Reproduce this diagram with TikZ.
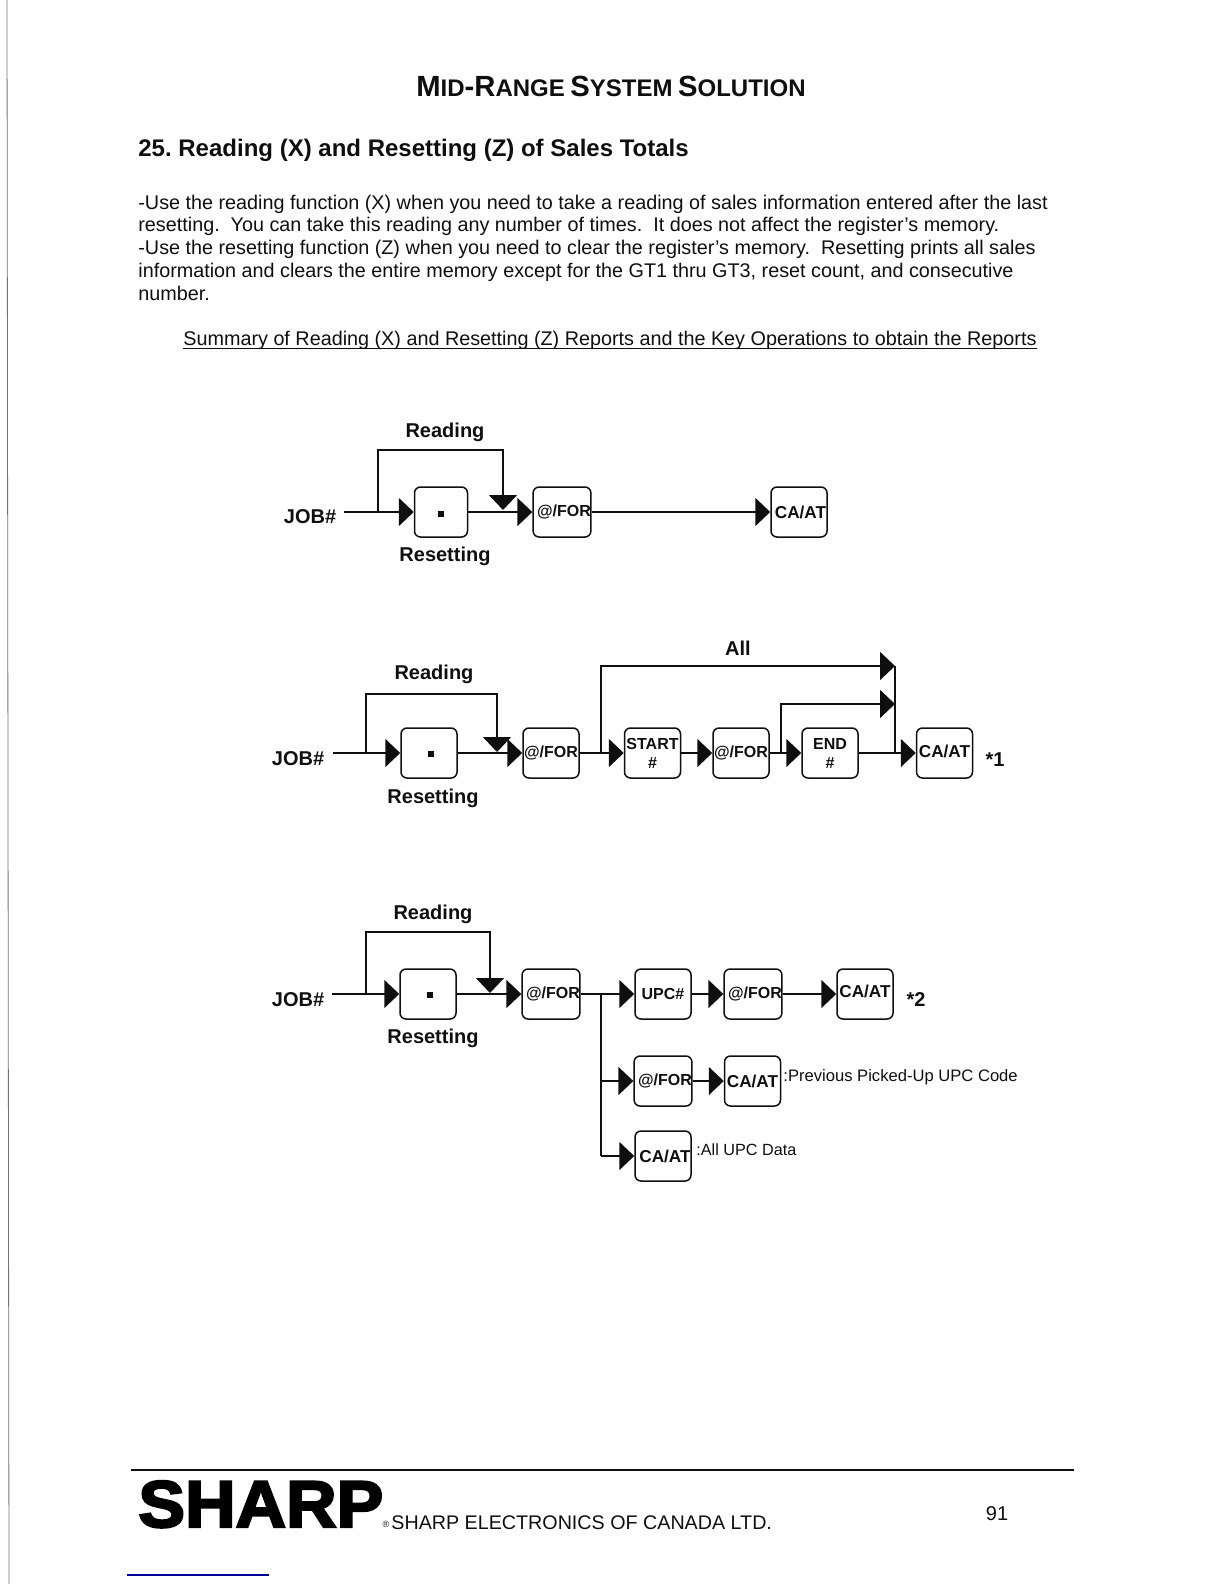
\documentclass[tikz,border=0pt]{standalone}
\usepackage{fontspec}
\setmainfont{Liberation Sans}
\newfontface\logofont[FakeBold=3.5,FakeStretch=1.06]{Liberation Sans Bold}
\usetikzlibrary{arrows.meta}
\definecolor{ink}{gray}{0.06}
\newcommand{\scaps}[2]{{\fontsize{14.6pt}{14.6pt}\selectfont #1}{\fontsize{12pt}{14pt}\selectfont #2}}
\newcommand{\ofs}{\hspace*{2pt}}
\tikzset{
 keybox/.style={draw=ink,line width=0.75pt,rounded corners=3pt,minimum width=28pt,minimum height=25pt,inner sep=0pt,font=\bfseries\fontsize{8pt}{9pt}\selectfont,align=center,text=ink},
 cakey/.style={keybox,font=\bfseries\fontsize{8.6pt}{9pt}\selectfont},
 lab/.style={font=\bfseries\fontsize{10pt}{12pt}\selectfont,text=ink,inner sep=0pt},
 note/.style={font=\fontsize{8.3pt}{10pt}\selectfont,text=ink,inner sep=0pt,anchor=west},
 body/.style={font=\fontsize{9.89pt}{12pt}\selectfont,text=ink,inner sep=0pt,anchor=base west},
 flow/.style={draw=ink,line width=0.9pt,-{Triangle[length=7.5pt,width=14pt]}},
 plain/.style={draw=ink,line width=0.9pt},
 dotk/.style={fill=ink,minimum size=3.4pt,inner sep=0pt},
}
\begin{document}
\begin{tikzpicture}[x=0.5pt,y=-0.5pt]
\useasboundingbox (0,0) rectangle (1224,1584);
% scan edge
\coordinate (ea) at (7,0); \coordinate (eb) at (9,1584);
\draw[black!55,line width=0.4pt] (ea) -- (eb);
% header
\node[inner sep=0pt,text=ink,font=\bfseries] (title) at (611,86) {\scaps{M}{ID}\scaps{-R}{ANGE} \scaps{S}{YSTEM} \scaps{S}{OLUTION}};
\node[body,font=\bfseries\fontsize{12pt}{14pt}\selectfont] (head) at (138,156.5) {25.\ Reading (X) and Resetting (Z) of Sales Totals};
\node[body] (b1) at (138,209) {-Use the reading function (X) when you need to take a reading of sales information entered after the last};
\node[body] (b2) at (138,231) {resetting.\ \ You can take this reading any number of times.\ \ It does not affect the register’s memory.};
\node[body] (b3) at (138,254) {-Use the resetting function (Z) when you need to clear the register’s memory.\ \ Resetting prints all sales};
\node[body] (b4) at (138,277) {information and clears the entire memory except for the GT1 thru GT3, reset count, and consecutive};
\node[body] (b5) at (138,300) {number.};
\node[body] (sum) at (183,345.5) {Summary of Reading (X) and Resetting (Z) Reports and the Key Operations to obtain the Reports};
\draw[ink,line width=0.45pt] ([yshift=-1.3pt]sum.base west) -- ([yshift=-1.3pt]sum.base east);

% ---- diagram 1
\node[lab] (rd1) at (445,432) {Reading};
\node[lab] (rs1) at (445,556) {Resetting};
\node[lab] (job1) at (310,517) {JOB\#};
\coordinate (s1) at (344,512);
\node[keybox,minimum width=26.5pt] (a1) at (441,512) {};
\node[dotk] (d1) at (441,514) {};
\node[keybox] (a2) at (562,512) {\ofs @/FOR};
\node[cakey] (a3) at (799,512) {\hspace*{1.5pt}CA/AT};
\coordinate (r1a) at (378,512); \coordinate (r1t) at (378,450); \coordinate (r1b) at (503,510);
\draw[flow] (s1) -- (a1);
\draw[flow] (a1) -- (a2);
\draw[flow] (a2) -- (a3);
\draw[flow] (r1a) -- (r1t) -| (r1b);

% ---- diagram 2
\node[lab] (rd2) at (434,674) {Reading};
\node[lab] (rs2) at (433,798) {Resetting};
\node[lab] (all) at (738,648) {All};
\node[lab] (job2) at (298,759) {JOB\#};
\coordinate (s2) at (333,753);
\node[keybox] (b21) at (429,753) {};
\node[dotk] (d2) at (431,754) {};
\node[keybox] (b22) at (551,753) {@/FOR};
\node[keybox] (b23) at (652.5,753) {\raisebox{1pt}{START}\\[-0.5pt]\#};
\node[keybox] (b24) at (741,753) {@/FOR};
\node[keybox] (b25) at (830,753) {\raisebox{1pt}{END}\\[-0.5pt]\#};
\node[cakey] (b26) at (944.5,753) {\raisebox{2pt}{CA/AT}};
\node[lab] (st1) at (995,760) {*1};
\coordinate (r2a) at (366,753); \coordinate (r2t) at (366,694); \coordinate (r2b) at (497,752);
\coordinate (p2a) at (601,753); \coordinate (p2t) at (601,666); \coordinate (m1) at (895,666);
\coordinate (q2a) at (781,753); \coordinate (q2t) at (781,704); \coordinate (m2) at (895,704);
\coordinate (m3) at (895,753);
\draw[flow] (s2) -- (b21);
\draw[flow] (b21) -- (b22);
\draw[flow] (b22) -- (b23);
\draw[flow] (b23) -- (b24);
\draw[flow] (b24) -- (b25);
\draw[flow] (b25) -- (b26);
\draw[flow] (r2a) -- (r2t) -| (r2b);
\draw[flow] (p2a) -- (p2t) -- (m1);
\draw[flow] (q2a) -- (q2t) -- (m2);
\draw[plain] (m1) -- (m3);

% ---- diagram 3
\node[lab] (rd3) at (433,914) {Reading};
\node[lab] (rs3) at (433,1038) {Resetting};
\node[lab] (job3) at (298,1000) {JOB\#};
\coordinate (s3) at (332,994);
\node[keybox] (c1) at (428,994) {};
\node[dotk] (d3) at (430,995) {};
\node[keybox] (c2) at (551,994) {\ofs @/FOR};
\node[keybox] (c3) at (663,994) {UPC\#};
\node[keybox] (c4) at (753,994) {\ofs @/FOR};
\node[cakey] (c5) at (865,994) {\raisebox{3pt}{CA/AT}};
\node[lab] (st2) at (916,1000) {*2};
\node[keybox] (c6) at (663,1081) {\ofs @/FOR};
\node[cakey] (c7) at (752.5,1081) {CA/AT};
\node[note] (n1) at (783,1077) {:Previous Picked-Up UPC Code};
\node[cakey] (c8) at (663,1156) {\ofs CA/AT};
\node[note,font=\fontsize{8.1pt}{10pt}\selectfont] (n2) at (696,1150) {:All UPC Data};
\coordinate (r3a) at (366,994); \coordinate (r3t) at (366,932); \coordinate (r3b) at (490,993);
\coordinate (j3) at (601,994); \coordinate (j4) at (601,1081); \coordinate (j5) at (601,1156);
\draw[flow] (s3) -- (c1);
\draw[flow] (c1) -- (c2);
\draw[flow] (c2) -- (c3);
\draw[flow] (c3) -- (c4);
\draw[flow] (c4) -- (c5);
\draw[flow] (r3a) -- (r3t) -| (r3b);
\draw[plain] (j3) -- (j5);
\draw[flow] (j4) -- (c6);
\draw[flow] (c6) -- (c7);
\draw[flow] (j5) -- (c8);

% ---- footer
\coordinate (fa) at (131,1470); \coordinate (fb) at (1074,1470);
\draw[ink,line width=1pt] (fa) -- (fb);
\node[inner sep=0pt,anchor=base west,text=black,font=\logofont\fontsize{33pt}{36pt}\selectfont] (logo) at (138,1527) {SHARP};
\node[inner sep=0pt,text=ink,font=\fontsize{4.5pt}{5pt}\selectfont] (reg) at (386,1524) {®};
\node[body,font=\fontsize{9.85pt}{12pt}\selectfont] (co) at (391,1529) {SHARP ELECTRONICS OF CANADA LTD.};
\node[inner sep=0pt,text=ink,font=\fontsize{10pt}{12pt}\selectfont] (pg) at (997,1514) {91};
\coordinate (ba) at (127,1575); \coordinate (bb) at (269,1575);
\draw[blue!60!black,line width=0.6pt] (ba) -- (bb);
\end{tikzpicture}
\end{document}
